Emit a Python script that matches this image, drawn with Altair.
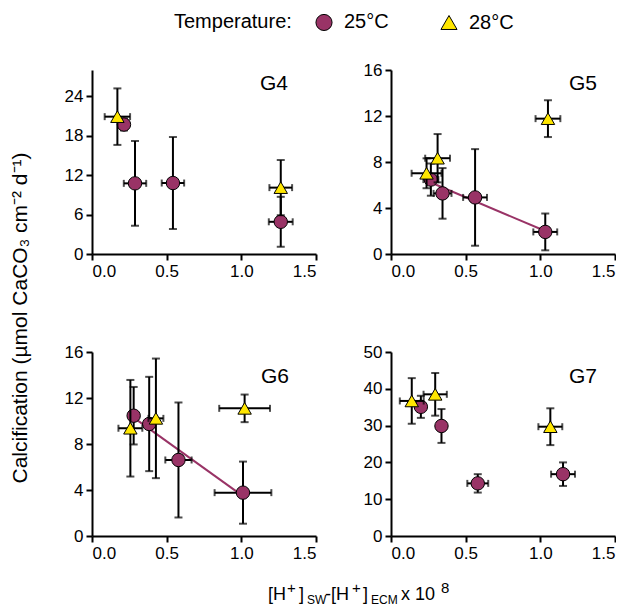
import altair as alt
import pandas as pd

MAROON = "#993366"
YELLOW = "#FFE600"
TEMPS = ["25°C", "28°C"]
FONT = "Liberation Sans"

# ---- G4 ----
g4_c_x = [0.214, 0.288, 0.542, 1.264]
g4_c_y = [19.7, 10.75, 10.8, 4.9]
g4_c_xe = [0.02, 0.075, 0.075, 0.08]
g4_c_ye = [0.9, 6.45, 7.0, 3.8]
g4_t_x = [0.17, 1.264]
g4_t_y = [20.9, 10.1]
g4_t_xe = [0.085, 0.076]
g4_t_ye = [4.3, 4.2]

# ---- G5 ----
g5_c_x = [0.267, 0.345, 0.563, 1.033]
g5_c_y = [6.47, 5.27, 4.92, 1.92]
g5_c_xe = [0.05, 0.06, 0.08, 0.08]
g5_c_ye = [1.4, 2.2, 4.2, 1.6]
g5_t_x = [0.238, 0.312, 1.051]
g5_t_y = [7.02, 8.33, 11.77]
g5_t_xe = [0.1, 0.083, 0.083]
g5_t_ye = [1.3, 2.1, 1.6]

# ---- G6 ----
g6_c_x = [0.279, 0.383, 0.579, 1.011]
g6_c_y = [10.46, 9.74, 6.61, 3.77]
g6_c_xe = [0.03, 0.03, 0.088, 0.19]
g6_c_ye = [2.5, 4.1, 5.0, 2.7]
g6_t_x = [0.257, 0.428, 1.022]
g6_t_y = [9.37, 10.23, 11.1]
g6_t_xe = [0.08, 0.05, 0.17]
g6_t_ye = [4.2, 5.2, 1.2]

# ---- G7 ----
g7_c_x = [0.2, 0.338, 0.581, 1.152]
g7_c_y = [35.1, 29.9, 14.3, 16.8]
g7_c_xe = [0.03, 0.03, 0.07, 0.08]
g7_c_ye = [3.0, 4.6, 2.5, 3.2]
g7_t_x = [0.139, 0.296, 1.067]
g7_t_y = [36.7, 38.5, 29.7]
g7_t_xe = [0.08, 0.078, 0.08]
g7_t_ye = [6.2, 5.8, 5.0]

x_ticks = [0.0, 0.5, 1.0, 1.5]

# x-axis title assembled from pieces (text, font size, x offset, y baseline below panel)
xt_text = ["[H", "+", "]", "SW", "-[H", "+", "]", "ECM", "x 10", "8"]
xt_size = [18, 15, 18, 12, 18, 15, 18, 12, 18, 15]
xt_x = [176, 195, 207, 215, 233, 260, 271, 279, 309, 349]
xt_y = [64, 57, 64, 68, 64, 57, 64, 68, 64, 57]


def make_df(cx, cy, cxe, cye, tx, ty, txe, tye):
    rows = []
    for temp, xs, ys, xes, yes in [(TEMPS[0], cx, cy, cxe, cye), (TEMPS[1], tx, ty, txe, tye)]:
        for x, y, xe, ye in zip(xs, ys, xes, yes):
            rows.append(dict(temp=temp, x=x, y=y, xlo=x - xe, xhi=x + xe, ylo=y - ye, yhi=y + ye))
    return pd.DataFrame(rows)


LEG = alt.Legend(
    title="Temperature:", orient="none", legendX=82, legendY=-58,
    direction="horizontal", titleOrient="left", titleFontSize=20,
    titleFontWeight="normal", titleColor="black", titleFont=FONT,
    titleAnchor="middle", titleBaseline="middle",
    labelFontSize=20, labelColor="black", labelFont=FONT,
    symbolSize=260, symbolStrokeColor="black", symbolStrokeWidth=1,
    columnPadding=49, titlePadding=22, labelOffset=10,
)

H = 184
W = 224


def panel(df, label, ymax, yticks, lx, ly, trend, xtitle=False):
    xsc = alt.Scale(domain=[0, 1.5], nice=False, zero=False)
    ysc = alt.Scale(domain=[0, ymax], nice=False)
    xax = alt.Axis(values=x_ticks, format=".1f", title=None)
    yax = alt.Axis(values=yticks, title=None)

    def X(f):
        return alt.X(f, type="quantitative", scale=xsc, axis=xax)

    def Y(f):
        return alt.Y(f, type="quantitative", scale=ysc, axis=yax)

    base = alt.Chart(df)
    layers = []
    if trend:
        layers.append(
            base.transform_filter(alt.datum.temp == TEMPS[0])
            .transform_regression("x", "y")
            .mark_line(color=MAROON, strokeWidth=2)
            .encode(x=X("x"), y=Y("y"))
        )
    for t in TEMPS:
        b = base.transform_filter(alt.datum.temp == t)
        layers += [
            b.mark_rule(color="black", strokeWidth=2).encode(x=X("x"), y=Y("ylo"), y2="yhi"),
            b.mark_rule(color="black", strokeWidth=2).encode(y=Y("y"), x=X("xlo"), x2="xhi"),
            b.mark_tick(orient="horizontal", size=8, thickness=2, color="black").encode(x=X("x"), y=Y("ylo")),
            b.mark_tick(orient="horizontal", size=8, thickness=2, color="black").encode(x=X("x"), y=Y("yhi")),
            b.mark_tick(orient="vertical", size=7, thickness=2, color="black").encode(x=X("xlo"), y=Y("y")),
            b.mark_tick(orient="vertical", size=7, thickness=2, color="black").encode(x=X("xhi"), y=Y("y")),
            b.mark_point(filled=True, stroke="black", strokeWidth=1, opacity=1, size=180).encode(
                x=X("x"), y=Y("y"),
                color=alt.Color("temp:N", scale=alt.Scale(domain=TEMPS, range=[MAROON, YELLOW]), legend=LEG),
                shape=alt.Shape("temp:N", scale=alt.Scale(domain=TEMPS, range=["circle", "triangle-up"]), legend=LEG),
            ),
        ]
    layers.append(
        alt.Chart(alt.Data(values=[{}]))
        .mark_text(text=label, fontSize=21, font=FONT, color="black", align="center", baseline="middle")
        .encode(x=alt.value(lx), y=alt.value(ly))
    )
    if xtitle:
        for t, s, xx, yy in zip(xt_text, xt_size, xt_x, xt_y):
            layers.append(
                alt.Chart(alt.Data(values=[{}]))
                .mark_text(text=t, fontSize=s, font=FONT, color="black", align="left", baseline="alphabetic")
                .encode(x=alt.value(xx), y=alt.value(H + yy))
            )
    return alt.layer(*layers).properties(width=W, height=H)


p4 = panel(make_df(g4_c_x, g4_c_y, g4_c_xe, g4_c_ye, g4_t_x, g4_t_y, g4_t_xe, g4_t_ye),
           "G4", 28, [0, 6, 12, 18, 24], 182, 14, False)
p5 = panel(make_df(g5_c_x, g5_c_y, g5_c_xe, g5_c_ye, g5_t_x, g5_t_y, g5_t_xe, g5_t_ye),
           "G5", 16, [0, 4, 8, 12, 16], 192, 14, True)
p6 = panel(make_df(g6_c_x, g6_c_y, g6_c_xe, g6_c_ye, g6_t_x, g6_t_y, g6_t_xe, g6_t_ye),
           "G6", 16, [0, 4, 8, 12, 16], 183, 25, True, xtitle=True)
p7 = panel(make_df(g7_c_x, g7_c_y, g7_c_xe, g7_c_ye, g7_t_x, g7_t_y, g7_t_xe, g7_t_ye),
           "G7", 50, [0, 10, 20, 30, 40, 50], 192, 25, False)

chart = (
    alt.concat(
        p4, p5, p6, p7, columns=2, spacing={"row": 98, "column": 75}, bounds="flush",
        title=alt.TitleParams(
            text="Calcification (µmol CaCO₃ cm⁻² d⁻¹)", orient="left", anchor="middle",
            fontSize=21, fontWeight="normal", color="black", font=FONT, offset=33, dx=-9,
        ),
    )
    .properties(padding={"left": 2, "top": 4, "right": 0, "bottom": 0})
    .configure(font=FONT)
    .configure_view(stroke=None)
    .configure_axis(
        domainColor="black", domainWidth=2, tickColor="black", tickWidth=2, tickSize=6,
        labelFontSize=17, labelColor="black", labelFont=FONT, labelPadding=3, grid=False,
    )
)

chart.save("out.html", embed_options={"renderer": "svg", "actions": False})
